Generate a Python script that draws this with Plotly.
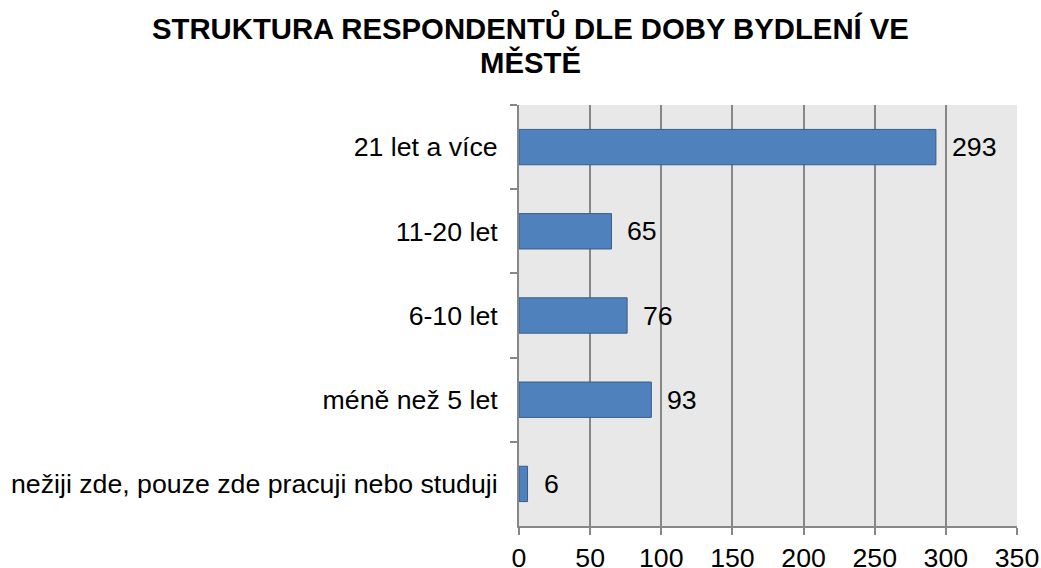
import plotly.graph_objects as go

categories = ["21 let a více", "11-20 let", "6-10 let", "méně než 5 let",
              "nežiji zde, pouze zde pracuji nebo studuji"]
values = [293, 65, 76, 93, 6]
x_ticks = [0, 50, 100, 150, 200, 250, 300, 350]
title_lines = ["STRUKTURA RESPONDENTŮ DLE DOBY BYDLENÍ VE", "MĚSTĚ"]

FONT = "Liberation Sans, Arial, sans-serif"
FS = 26.7
TFS = 29.3

fig = go.Figure()
fig.add_trace(go.Bar(
    x=values, y=categories, orientation="h",
    marker=dict(color="#4F81BD", line=dict(color="#385D8A", width=1)),
    width=0.42,
))
for c, v in zip(categories, values):
    fig.add_annotation(x=v, y=c, text=str(v), showarrow=False,
                       xanchor="left", xshift=14,
                       font=dict(family=FONT, size=FS, color="#000"))

# two-line title
for line, ypos in zip(title_lines, [1.138, 1.057]):
    fig.add_annotation(text=line, xref="paper", yref="paper",
                       x=(530 - 519) / 498, y=ypos, xanchor="center", yanchor="bottom",
                       showarrow=False,
                       font=dict(family=FONT, size=TFS, color="#000", weight="bold"))

fig.update_layout(
    width=1041, height=568,
    margin=dict(l=519, r=24, t=105, b=42, autoexpand=False),
    paper_bgcolor="white", plot_bgcolor="#E8E8E8",
    showlegend=False,
    font=dict(family=FONT, size=FS, color="#000"),
)
fig.update_xaxes(range=[0, 350], tickvals=x_ticks, showgrid=True, automargin=False,
                 gridcolor="#878787", gridwidth=2,
                 showline=True, linecolor="#878787", linewidth=2,
                 ticks="outside", ticklen=7, tickcolor="#878787", tickwidth=2,
                 zeroline=False, tickfont=dict(size=FS, family=FONT, color="#000"))
fig.update_yaxes(categoryorder="array", categoryarray=categories, automargin=False,
                 autorange="reversed", showgrid=False,
                 showline=True, linecolor="#878787", linewidth=2,
                 ticks="outside", tickson="boundaries", ticklen=7,
                 tickcolor="#878787", tickwidth=2, ticklabelstandoff=14,
                 tickfont=dict(size=FS, family=FONT, color="#000"))

fig.write_html("out.html", config={"displayModeBar": False},
               post_script="document.body.style.margin='0';document.body.style.overflow='hidden';")
